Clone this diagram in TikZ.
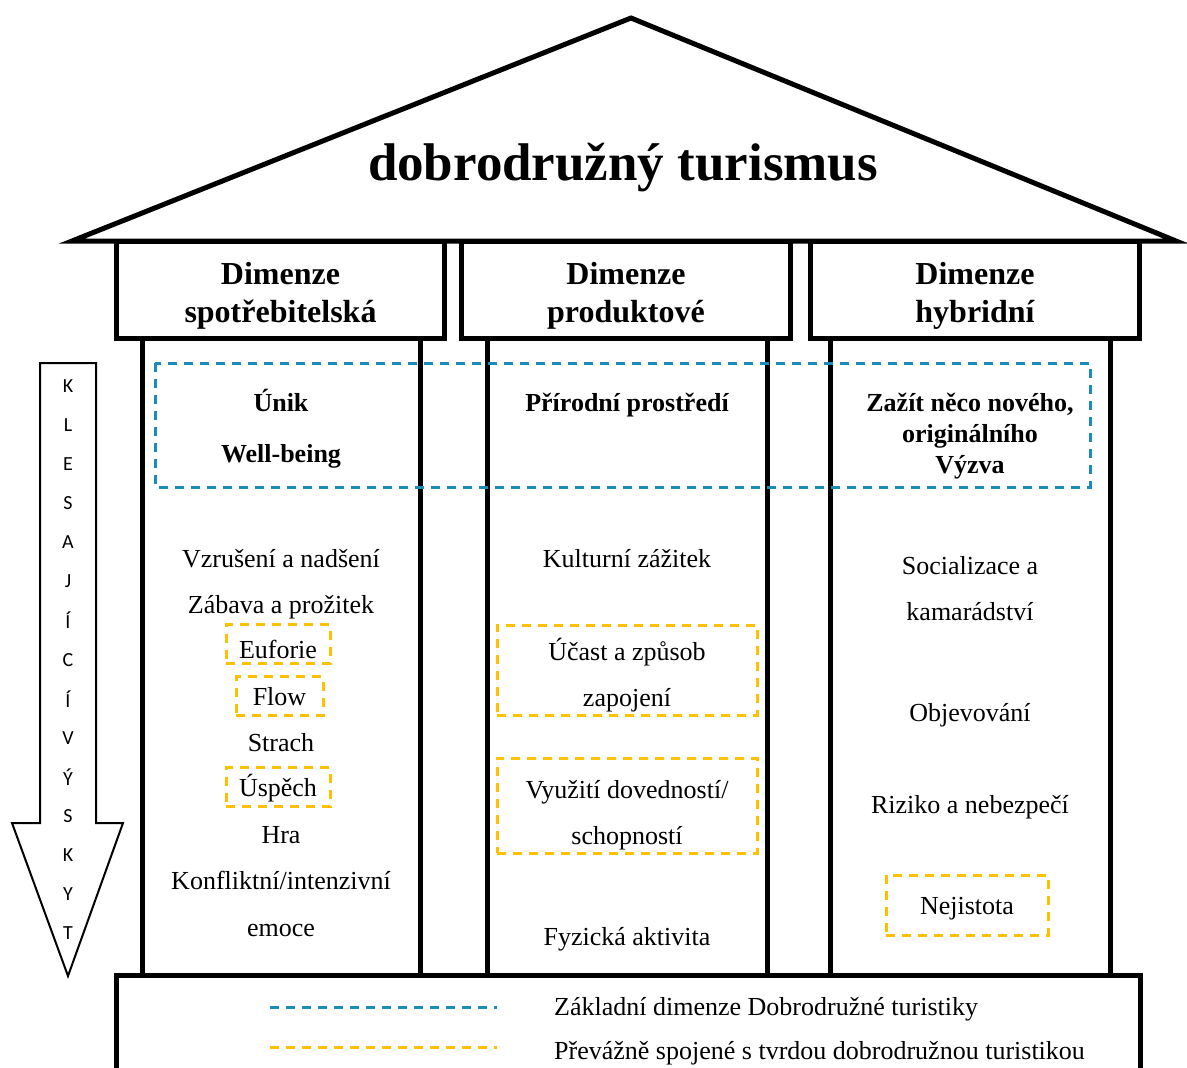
\documentclass[tikz,border=0pt]{standalone}
\usepackage{fontspec}
\setmainfont{Liberation Serif}
\newfontfamily\arrowfont{Carlito}
\usetikzlibrary{positioning}
\definecolor{coreBlue}{HTML}{1A8CBA}
\definecolor{hardAmber}{HTML}{FFC000}

\begin{document}
\begin{tikzpicture}[
  x=1pt, y=-1pt,
  every node/.style={font=\fontsize{26}{46}\selectfont, align=center, inner sep=0pt, text height=22pt, text depth=3pt},
  roofLine/.style={line width=5pt, line join=miter},
  headBox/.style={line width=5pt},
  headText/.style={font=\bfseries\fontsize{32}{38}\selectfont, text height=, text depth=},
  pillarLine/.style={line width=5pt},
  coreDash/.style={draw=coreBlue, line width=3pt, dash pattern=on 9pt off 7pt},
  hardDash/.style={draw=hardAmber, line width=3pt, dash pattern=on 9pt off 7pt},
  hardBox/.style={hardDash, minimum height=39pt},
  lowText/.style={text height=28pt, text depth=0pt},
  hardWide/.style={hardDash, minimum width=260pt},
  twoLines/.style={text height=, text depth=},
  boldItem/.style={font=\bfseries\fontsize{26}{31}\selectfont},
  arrowLetter/.style={font=\arrowfont\fontsize{20}{20}\selectfont, text height=, text depth=}
]
  \useasboundingbox (0,0) rectangle (1187,1068);

  % roof
  \draw[roofLine] (72,241) -- (631,18) -- (1176,241) -- cycle;
  \node[font=\bfseries\fontsize{53}{60}\selectfont, text height=, text depth=] (title) at (623,168) {dobrodružný turismus};

  % headers
  \draw[headBox] (116.5,241) rectangle (444.5,338);
  \draw[headBox] (461.5,241) rectangle (790.5,338);
  \draw[headBox] (810.5,241) rectangle (1139.5,338);
  \node[headText] (dimCons) at (280.5,295.5) {Dimenze\\spotřebitelská};
  \node[headText] (dimProd) at (626,295.5) {Dimenze\\produktové};
  \node[headText] (dimHyb) at (975,295.5) {Dimenze\\hybridní};

  % pillars
  \foreach \xa/\xb in {142/420, 487/767, 830/1110} {
    \draw[pillarLine] (\xa,338) -- (\xa,975);
    \draw[pillarLine] (\xb,338) -- (\xb,975);
  }

  % base
  \draw[line width=5pt] (116,975) rectangle (1140,1100);

  % core dimensions
  \draw[coreDash] (155,363) rectangle (1090,487);

  % arrow
  \draw[line width=2pt] (40,363) -- (96,363) -- (96,823) -- (123,823) -- (68,976) -- (12,823) -- (40,823) -- cycle;
  \foreach \ch [count=\i from 0] in {K,L,E,S,A,J,Í,C,Í,V,Ý,S,K,Y,T}
    \node[arrowLetter] (let\i) at (68,386+39.1*\i) {\ch};

  % consumer column
  \node[boldItem] (escape) at (281,402) {Únik};
  \node[boldItem] (wellbeing) at (281,453) {Well-being};
  \node (excite) at (281,558) {Vzrušení a nadšení};
  \node (fun) at (281,604) {Zábava a prožitek};
  \node[hardBox, lowText, minimum width=104pt] (euphoria) at (278,644) {Euforie};
  \node[hardBox, minimum width=87pt] (flow) at (279.5,696) {Flow};
  \node (fear) at (281,742) {Strach};
  \node[hardBox, minimum width=104pt] (success) at (278,787) {Úspěch};
  \node (play) at (281,834) {Hra};
  \node (conflict) at (281,880) {Konfliktní/intenzivní};
  \node (emotion) at (281,927) {emoce};

  % product column
  \node[boldItem] (nature) at (627,402) {Přírodní prostředí};
  \node (culture) at (627,558) {Kulturní zážitek};
  \node[hardWide, minimum height=90pt] (participation) at (627,670) {};
  \node[twoLines] (participationText) at (627,675) {Účast a způsob\\zapojení};
  \node[hardWide, minimum height=95pt] (skills) at (627,805.5) {};
  \node[twoLines] (skillsText) at (627,815) {Využití dovedností/\\schopností};
  \node (physical) at (627,936) {Fyzická aktivita};

  % hybrid column
  \node[boldItem, twoLines] (novelty) at (970,436) {Zažít něco nového,\\originálního\\Výzva};
  \node[twoLines] (social) at (970,589) {Socializace a\\kamarádství};
  \node (discovery) at (970,712) {Objevování};
  \node (risk) at (970,804) {Riziko a nebezpečí};
  \node[hardDash, minimum width=162pt, minimum height=60pt] (uncertainty) at (967,905) {Nejistota};

  % legend
  \draw[coreDash] (270,1007) -- (497,1007);
  \draw[hardDash] (270,1047) -- (497,1047);
  \node[anchor=west] (coreLabel) at (554,1006) {Základní dimenze Dobrodružné turistiky};
  \node[anchor=west] (hardLabel) at (554,1050) {Převážně spojené s tvrdou dobrodružnou turistikou};
\end{tikzpicture}
\end{document}
